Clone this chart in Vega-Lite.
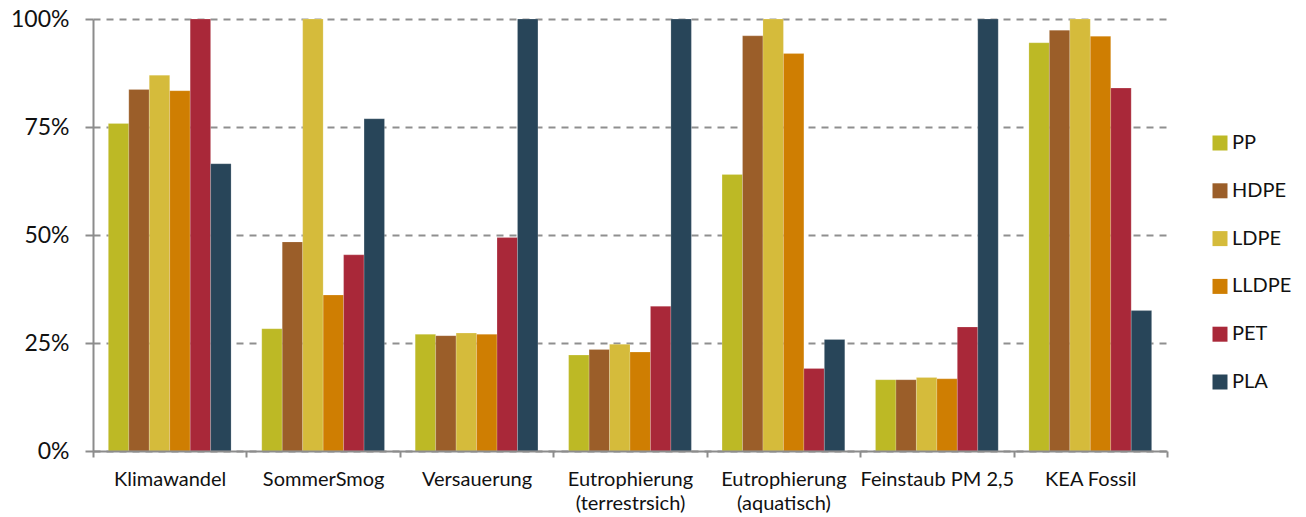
{
  "$schema": "https://vega.github.io/schema/vega-lite/v6.json",
  "width": 1074,
  "height": 432,
  "autosize": {"type": "none"},
  "padding": {"left": 93, "top": 19, "right": 139, "bottom": 66},
  "background": "white",
  "config": {
    "view": {"stroke": null},
    "font": "Lato",
    "axis": {"labelColor": "#111111", "labelFont": "Lato", "domainColor": "#8c8c8c", "tickColor": "#8c8c8c", "domainWidth": 2, "tickWidth": 2}
  },
  "data": {
    "values": [
      {"Kategorie": "Klimawandel", "Material": "PP", "Wert": 0.758},
      {"Kategorie": "Klimawandel", "Material": "HDPE", "Wert": 0.837},
      {"Kategorie": "Klimawandel", "Material": "LDPE", "Wert": 0.870},
      {"Kategorie": "Klimawandel", "Material": "LLDPE", "Wert": 0.834},
      {"Kategorie": "Klimawandel", "Material": "PET", "Wert": 1.0},
      {"Kategorie": "Klimawandel", "Material": "PLA", "Wert": 0.665},
      {"Kategorie": "SommerSmog", "Material": "PP", "Wert": 0.283},
      {"Kategorie": "SommerSmog", "Material": "HDPE", "Wert": 0.484},
      {"Kategorie": "SommerSmog", "Material": "LDPE", "Wert": 1.0},
      {"Kategorie": "SommerSmog", "Material": "LLDPE", "Wert": 0.361},
      {"Kategorie": "SommerSmog", "Material": "PET", "Wert": 0.454},
      {"Kategorie": "SommerSmog", "Material": "PLA", "Wert": 0.769},
      {"Kategorie": "Versauerung", "Material": "PP", "Wert": 0.270},
      {"Kategorie": "Versauerung", "Material": "HDPE", "Wert": 0.267},
      {"Kategorie": "Versauerung", "Material": "LDPE", "Wert": 0.273},
      {"Kategorie": "Versauerung", "Material": "LLDPE", "Wert": 0.270},
      {"Kategorie": "Versauerung", "Material": "PET", "Wert": 0.494},
      {"Kategorie": "Versauerung", "Material": "PLA", "Wert": 1.0},
      {"Kategorie": "Eutrophierung (terrestrsich)", "Material": "PP", "Wert": 0.222},
      {"Kategorie": "Eutrophierung (terrestrsich)", "Material": "HDPE", "Wert": 0.235},
      {"Kategorie": "Eutrophierung (terrestrsich)", "Material": "LDPE", "Wert": 0.247},
      {"Kategorie": "Eutrophierung (terrestrsich)", "Material": "LLDPE", "Wert": 0.229},
      {"Kategorie": "Eutrophierung (terrestrsich)", "Material": "PET", "Wert": 0.335},
      {"Kategorie": "Eutrophierung (terrestrsich)", "Material": "PLA", "Wert": 1.0},
      {"Kategorie": "Eutrophierung (aquatisch)", "Material": "PP", "Wert": 0.640},
      {"Kategorie": "Eutrophierung (aquatisch)", "Material": "HDPE", "Wert": 0.961},
      {"Kategorie": "Eutrophierung (aquatisch)", "Material": "LDPE", "Wert": 1.0},
      {"Kategorie": "Eutrophierung (aquatisch)", "Material": "LLDPE", "Wert": 0.920},
      {"Kategorie": "Eutrophierung (aquatisch)", "Material": "PET", "Wert": 0.191},
      {"Kategorie": "Eutrophierung (aquatisch)", "Material": "PLA", "Wert": 0.258},
      {"Kategorie": "Feinstaub PM 2,5", "Material": "PP", "Wert": 0.165},
      {"Kategorie": "Feinstaub PM 2,5", "Material": "HDPE", "Wert": 0.165},
      {"Kategorie": "Feinstaub PM 2,5", "Material": "LDPE", "Wert": 0.170},
      {"Kategorie": "Feinstaub PM 2,5", "Material": "LLDPE", "Wert": 0.167},
      {"Kategorie": "Feinstaub PM 2,5", "Material": "PET", "Wert": 0.287},
      {"Kategorie": "Feinstaub PM 2,5", "Material": "PLA", "Wert": 1.0},
      {"Kategorie": "KEA Fossil", "Material": "PP", "Wert": 0.945},
      {"Kategorie": "KEA Fossil", "Material": "HDPE", "Wert": 0.974},
      {"Kategorie": "KEA Fossil", "Material": "LDPE", "Wert": 1.0},
      {"Kategorie": "KEA Fossil", "Material": "LLDPE", "Wert": 0.960},
      {"Kategorie": "KEA Fossil", "Material": "PET", "Wert": 0.840},
      {"Kategorie": "KEA Fossil", "Material": "PLA", "Wert": 0.325}
    ]
  },
  "mark": {"type": "bar", "stroke": "#ffffff", "strokeOpacity": 0.3, "strokeWidth": 0.6},
  "encoding": {
    "x": {
      "field": "Kategorie",
      "type": "nominal",
      "sort": ["Klimawandel", "SommerSmog", "Versauerung", "Eutrophierung (terrestrsich)", "Eutrophierung (aquatisch)", "Feinstaub PM 2,5", "KEA Fossil"],
      "scale": {"paddingInner": 0, "paddingOuter": 0},
      "axis": {
        "title": null,
        "labelAngle": 0,
        "tickBand": "extent",
        "tickSize": 6,
        "labelFontSize": 20,
        "labelPadding": 12,
        "labelLineHeight": 24,
        "zindex": 1,
        "labelExpr": "indexof(datum.label, ' (') > 0 ? [substring(datum.label, 0, indexof(datum.label, ' (')), substring(datum.label, indexof(datum.label, ' (') + 1)] : datum.label"
      }
    },
    "xOffset": {
      "field": "Material",
      "type": "nominal",
      "sort": ["PP", "HDPE", "LDPE", "LLDPE", "PET", "PLA"],
      "scale": {"paddingInner": 0, "paddingOuter": 0.75}
    },
    "y": {
      "field": "Wert",
      "type": "quantitative",
      "scale": {"domain": [0, 1], "nice": false},
      "axis": {
        "title": null,
        "values": [0, 0.25, 0.5, 0.75, 1],
        "format": ".0%",
        "labelFontSize": 23,
        "tickSize": 8,
        "labelPadding": 16,
        "grid": true,
        "gridColor": "#8f8f8f",
        "gridWidth": 2,
        "gridDash": [7, 6]
      }
    },
    "color": {
      "field": "Material",
      "type": "nominal",
      "scale": {
        "domain": ["PP", "HDPE", "LDPE", "LLDPE", "PET", "PLA"],
        "range": ["#bdb925", "#9b5e29", "#d5bb3b", "#cf7e02", "#a92839", "#284559"]
      },
      "legend": {
        "title": null,
        "orient": "none",
        "legendX": 1117,
        "legendY": 114,
        "padding": 0,
        "symbolType": "square",
        "symbolSize": 225,
        "symbolStrokeWidth": 0,
        "symbolOpacity": 1,
        "labelFont": "Lato",
        "labelFontSize": 20,
        "labelColor": "#111111",
        "labelOffset": 2,
        "rowPadding": 27.8
      }
    }
  }
}
